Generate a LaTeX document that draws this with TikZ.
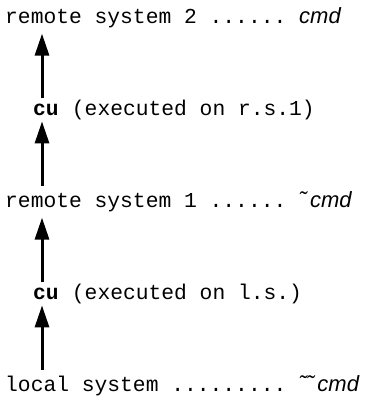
\documentclass[tikz,border=0pt]{standalone}
\usepackage{fontspec}
\setmainfont{Liberation Serif}
\setmonofont{Liberation Mono}
\setsansfont{Liberation Sans}
\usepackage{tikz}
\usetikzlibrary{arrows.meta, positioning}
\tikzset{
    sysline/.style={
        inner sep=0pt,
        anchor=base west,
        font=\ttfamily\fontsize{21.3}{25}\selectfont
    },
    cuword/.style={
        sysline,
        font=\ttfamily\bfseries\fontsize{21.3}{25}\selectfont
    },
    hop/.style={
        -{Triangle[length=22pt, width=14pt]},
        line width=3pt,
        shorten <=5pt,
        shorten >=6pt
    }
}
\newcommand{\cmdtext}[1]{{\sffamily\itshape\fontsize{22}{26}\selectfont #1}}

\begin{document}
\begin{tikzpicture}[x=1pt, y=-1pt]
    \useasboundingbox (0,0) rectangle (370,397);
    % all the hops run up one column
    \coordinate (col) at (42,0);

    \node[sysline] (rs2) at (5,23) {remote system 2 ...... \cmdtext{cmd}};
    \node[cuword]  (cu2) at (33,115) {cu};
    \node[sysline] (ex2) at (cu2.base east) {\ (executed on r.s.1)};
    \node[sysline] (rs1) at (5,207) {remote system 1 ...... \cmdtext{˜\,cmd}};
    \node[cuword]  (cu1) at (33,299) {cu};
    \node[sysline] (ex1) at (cu1.base east) {\ (executed on l.s.)};
    \node[sysline] (ls)  at (5,391) {local system ......... \cmdtext{˜˜\,cmd}};

    \draw[hop] (cu2.north -| col) -- (rs2.south -| col);
    \draw[hop] (rs1.north -| col) -- (cu2.south -| col);
    \draw[hop] (cu1.north -| col) -- (rs1.south -| col);
    \draw[hop] (ls.north -| col)  -- (cu1.south -| col);
\end{tikzpicture}
\end{document}
